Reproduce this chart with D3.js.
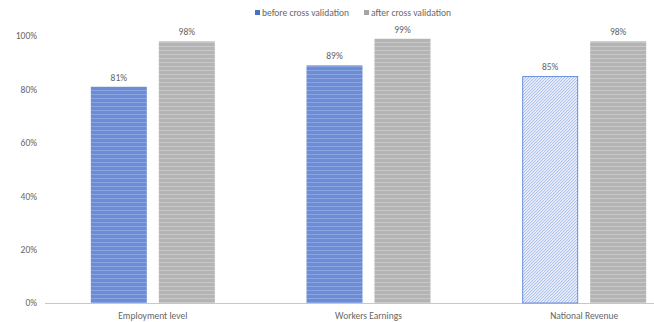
<!DOCTYPE html>
<html>
<head>
<meta charset="utf-8">
<script src="https://cdn.jsdelivr.net/npm/d3@7/dist/d3.min.js"></script>
<style>
  html, body { margin: 0; padding: 0; background: #fff; }
  svg { display: block; font-family: Carlito, Calibri, "Liberation Sans", sans-serif; }
</style>
</head>
<body>
<svg id="chart" width="654" height="322"></svg>
<script>
const categories = ["Employment level", "Workers Earnings", "National Revenue"];
const seriesNames = ["before cross validation", "after cross validation"];
const beforeValues = [81, 89, 85];
const afterValues = [98, 99, 98];
const yTicks = [0, 20, 40, 60, 80, 100];

const svg = d3.select("#chart");
const defs = svg.append("defs");

// Horizontal-stripe fills for the solid bars
function stripePattern(id, base, line) {
  const p = defs.append("pattern").attr("id", id)
    .attr("patternUnits", "userSpaceOnUse").attr("width", 8).attr("height", 4);
  p.append("rect").attr("width", 8).attr("height", 4).attr("fill", base);
  p.append("rect").attr("y", 2).attr("width", 8).attr("height", 1).attr("fill", line);
}
stripePattern("stripeBlue", "#6d8cd6", "#8aa5e2");
stripePattern("stripeGray", "#b4b4b4", "#c8c8c8");

// Fine diagonal hatch for the highlighted bar
const hatch = defs.append("pattern").attr("id", "hatchBlue")
  .attr("patternUnits", "userSpaceOnUse").attr("width", 3).attr("height", 3);
hatch.append("rect").attr("width", 3).attr("height", 3).attr("fill", "#e8eef9");
hatch.append("path").attr("d", "M-1,4 L4,-1 M-1,1 L1,-1 M2,4 L4,2")
  .attr("stroke", "#9cb3e6").attr("stroke-width", 0.9);

const x0 = d3.scaleBand().domain(categories).range([45, 692]).paddingInner(0).paddingOuter(0);
const y = d3.scaleLinear().domain([0, 100]).range([303, 36]);

const barW = 56, gap = 12;
const groupW = barW * 2 + gap;

// y tick labels
svg.append("g").selectAll("text").data(yTicks).join("text")
  .attr("x", 37).attr("y", d => y(d)).attr("dy", "0.35em")
  .attr("text-anchor", "end").attr("font-size", 9.5).attr("fill", "#666")
  .text(d => d + "%");

// baseline
svg.append("line").attr("x1", 45).attr("x2", 692)
  .attr("y1", y(0) + 0.5).attr("y2", y(0) + 0.5)
  .attr("stroke", "#c8c8c8").attr("stroke-width", 1);

const groups = svg.append("g").selectAll("g").data(categories).join("g")
  .attr("transform", d => `translate(${x0(d) + (x0.bandwidth() - groupW) / 2},0)`);

groups.each(function(cat, i) {
  const g = d3.select(this);
  const vals = [beforeValues[i], afterValues[i]];
  vals.forEach((v, s) => {
    const bx = s * (barW + gap);
    const hatched = (s === 0 && i === 2);
    g.append("rect")
      .attr("x", bx + (hatched ? 0.5 : 0)).attr("y", y(v) + (hatched ? 0.5 : 0))
      .attr("width", barW - (hatched ? 1 : 0)).attr("height", y(0) - y(v) - (hatched ? 0.5 : 0))
      .attr("fill", hatched ? "url(#hatchBlue)" : (s === 0 ? "url(#stripeBlue)" : "url(#stripeGray)"))
      .attr("stroke", hatched ? "#6b8fdc" : "none").attr("stroke-width", 1);
    g.append("text")
      .attr("x", bx + barW / 2).attr("y", y(v) - 6)
      .attr("text-anchor", "middle").attr("font-size", 9.5).attr("fill", "#666")
      .text(v + "%");
  });
});

// category labels
svg.append("g").selectAll("text").data(categories).join("text")
  .attr("x", d => x0(d) + x0.bandwidth() / 2).attr("y", 319)
  .attr("text-anchor", "middle").attr("font-size", 9.5).attr("fill", "#666")
  .text(d => d);

// legend
const legend = svg.append("g");
const legendItems = [
  { name: seriesNames[0], color: "#4472c4", x: 255 },
  { name: seriesNames[1], color: "#a5a5a5", x: 364 }
];
legendItems.forEach(it => {
  legend.append("rect").attr("x", it.x).attr("y", 10).attr("width", 5).attr("height", 5).attr("fill", it.color);
  legend.append("text").attr("x", it.x + 7).attr("y", 12.5).attr("dy", "0.35em")
    .attr("font-size", 9.5).attr("fill", "#666").text(it.name);
});
</script>
</body>
</html>
